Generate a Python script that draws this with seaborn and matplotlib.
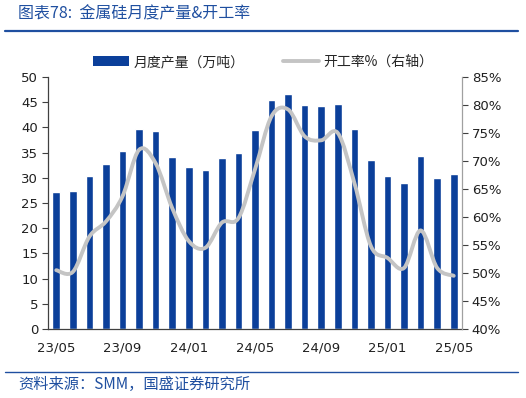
import matplotlib.pyplot as plt
import matplotlib.ticker as mticker
import numpy as np
import pandas as pd
import seaborn as sns
from matplotlib.lines import Line2D
from matplotlib.patches import Patch, PathPatch
from matplotlib.path import Path

months = [
    "23/05", "23/06", "23/07", "23/08", "23/09", "23/10", "23/11", "23/12",
    "24/01", "24/02", "24/03", "24/04", "24/05", "24/06", "24/07", "24/08",
    "24/09", "24/10", "24/11", "24/12", "25/01", "25/02", "25/03", "25/04", "25/05",
]
output = [
    27.2, 27.4, 30.4, 32.7, 35.4, 39.7, 39.2, 34.1, 32.2, 31.5, 33.9, 35.0, 39.4,
    45.5, 46.6, 44.4, 44.2, 44.6, 39.6, 33.6, 30.4, 29.0, 34.3, 30.0, 30.8,
]
util_rate = [
    50.5, 50.2, 56.5, 59.2, 63.7, 72.0, 69.6, 61.6, 55.7, 54.5, 59.0, 59.8, 68.5,
    78.0, 79.2, 74.4, 73.7, 75.0, 66.1, 54.8, 52.7, 50.9, 57.6, 50.9, 49.5,
]
tick_labels = ["23/05", "23/09", "24/01", "24/05", "24/09", "25/01", "25/05"]

BLUE = "#0B3F9A"
GRAY = "#C4C4C4"
TITLE_BLUE = "#1F4FA0"

sns.set_theme(style="white")
plt.rcParams["font.family"] = ["DejaVu Sans", "Noto Sans CJK SC"]
cjk = ["Noto Sans CJK SC", "DejaVu Sans"]

df = pd.DataFrame({"month": months, "output": output, "rate": util_rate})

fig = plt.figure(figsize=(5.26, 3.98), dpi=100)
ax = fig.add_axes([48 / 526, 1 - 329 / 398, (462 - 48) / 526, (329 - 77) / 398])

sns.barplot(data=df, x="month", y="output", order=months, color=BLUE,
            saturation=1, width=0.46, ax=ax)
ax.set_xlim(-0.5, len(months) - 0.5)
ax.set_ylim(0, 50)
ax.set_yticks(range(0, 51, 5))
ax.set_xlabel("")
ax.set_ylabel("")

label_pos = [months.index(m) for m in tick_labels]
ax.set_xticks(label_pos)
ax.set_xticklabels(tick_labels)
ax.set_xticks([p + 3.5 for p in label_pos[:-1]], minor=True)
ax.tick_params(axis="x", which="major", length=0, pad=9, labelsize=9.5, colors="#202020")
ax.tick_params(axis="x", which="minor", direction="in", length=4, width=0.8, color="#404040")
ax.tick_params(axis="y", direction="out", length=4, width=0.8, color="#404040",
               labelsize=9.5, labelcolor="#202020", pad=3)

for side in ["top", "right"]:
    ax.spines[side].set_visible(False)
for side in ["left", "bottom"]:
    ax.spines[side].set_color("#404040")
    ax.spines[side].set_linewidth(0.9)

ax2 = ax.twinx()
ax2.set_ylim(40, 85)
ax2.set_yticks(range(40, 86, 5))
ax2.yaxis.set_major_formatter(mticker.FuncFormatter(lambda v, _: f"{v:.0f}%"))
ax2.tick_params(axis="y", direction="out", length=4, width=0.8, color="#404040",
                labelsize=9.5, labelcolor="#202020", pad=3)
for side in ["top", "left", "bottom"]:
    ax2.spines[side].set_visible(False)
ax2.spines["right"].set_color("#A0A0A0")
ax2.spines["right"].set_linewidth(0.9)

# smoothed line like Excel (cubic Bezier through the points)
xs = np.arange(len(util_rate), dtype=float)
ys = np.array(util_rate, dtype=float)
pts = np.column_stack([xs, ys])
verts = [pts[0]]
codes = [Path.MOVETO]
n = len(pts)
for i in range(n - 1):
    p0 = pts[i - 1] if i > 0 else pts[i]
    p1 = pts[i]
    p2 = pts[i + 1]
    p3 = pts[i + 2] if i + 2 < n else pts[i + 1]
    c1 = p1 + (p2 - p0) / 6
    c2 = p2 - (p3 - p1) / 6
    verts += [c1, c2, p2]
    codes += [Path.CURVE4] * 3
ax2.add_patch(PathPatch(Path(verts, codes), facecolor="none", edgecolor=GRAY,
                        linewidth=2.8, capstyle="round", joinstyle="round"))

handles = [Patch(facecolor=BLUE, edgecolor="none"),
           Line2D([], [], color=GRAY, linewidth=2.8)]
fig.legend(handles, ["月度产量（万吨）", "开工率%（右轴）"], loc="center",
           bbox_to_anchor=(0.50, 1 - 62 / 398), ncol=2, frameon=False,
           prop={"family": cjk, "size": 10}, handlelength=2.6, handleheight=0.7,
           columnspacing=2.8, handletextpad=0.3)

fig.text(18 / 526, 1 - 14 / 398, "图表78:  金属硅月度产量&开工率", family=cjk,
         fontsize=11.5, color=TITLE_BLUE, style="italic", va="center", ha="left")
fig.add_artist(Line2D([5 / 526, 518 / 526], [1 - 31 / 398] * 2, color=TITLE_BLUE,
                      linewidth=1.6, transform=fig.transFigure))
fig.add_artist(Line2D([5 / 526, 518 / 526], [1 - 372 / 398] * 2, color=TITLE_BLUE,
                      linewidth=1.0, transform=fig.transFigure))
fig.text(18 / 526, 1 - 384 / 398, "资料来源：SMM，国盛证券研究所", family=cjk,
         fontsize=11, color=TITLE_BLUE, style="italic", va="center", ha="left")

fig.savefig("out.png", dpi=100)
